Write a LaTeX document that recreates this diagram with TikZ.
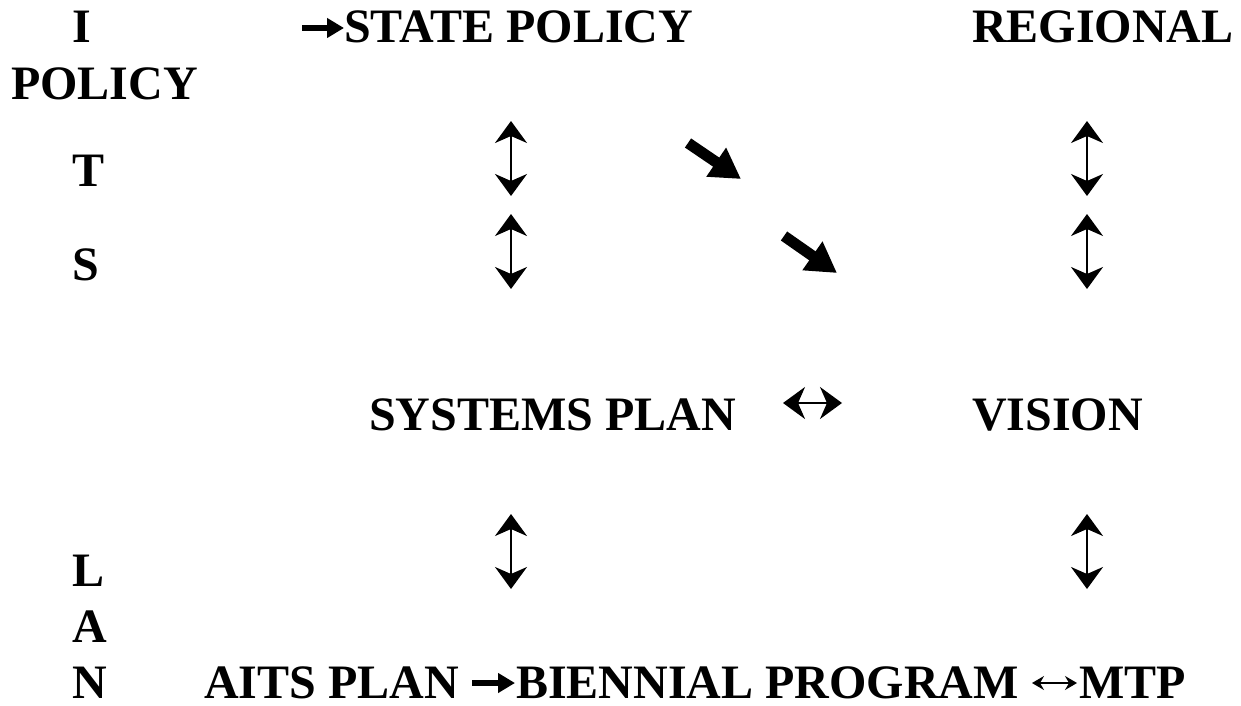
\documentclass[tikz,border=0pt]{standalone}
\usepackage{fontspec}
\setmainfont{Liberation Serif}
\usetikzlibrary{arrows.meta}
\begin{document}
\begin{tikzpicture}[x=1pt,y=-1pt,
  txt/.style={font=\fontsize{48}{58}\selectfont\bfseries,inner sep=0pt,anchor=base west},
  dbl/.style={line width=2.2pt,{Stealth[length=22pt,width=32pt,inset=7pt]}-{Stealth[length=22pt,width=32pt,inset=7pt]}},
  fat/.style={line width=11pt,-{Triangle[length=30pt,width=33pt]}},
  smallarr/.style={line width=5.5pt,-{Triangle[length=17pt,width=19pt]}},
  thinarr/.style={line width=1.3pt,{Stealth[length=12pt,width=14pt,inset=4pt]}-{Stealth[length=12pt,width=14pt,inset=4pt]}}]
\useasboundingbox (0,0) rectangle (1241,706);
% left column letters
\node[txt] (I) at (72,43) {I};
\node[txt] (policyL) at (11,100) {POLICY};
\node[txt] (T) at (72,186) {T};
\node[txt] (S) at (72,280) {S};
\node[txt] (L) at (72,586) {L};
\node[txt] (A) at (72,642) {A};
\node[txt] (N) at (72,698) {N};
% main texts
\node[txt] (state) at (344,43) {STATE POLICY};
\node[txt] (regional) at (972,43) {REGIONAL};
\node[txt] (systems) at (369,430) {SYSTEMS PLAN};
\node[txt] (vision) at (972,430) {VISION};
\node[txt] (aits) at (204,698) {AITS PLAN};
\node[txt] (bien) at (516,698) {BIENNIAL PROGRAM};
\node[txt] (mtp) at (1079,698) {MTP};
% small arrow before STATE POLICY
\coordinate (sa1) at (302,28);
\coordinate (sa2) at (344,28);
\draw[smallarr] (sa1) -- (sa2);
% bottom arrows
\coordinate (ba1) at (472,683);
\coordinate (ba2) at (515,683);
\draw[smallarr] (ba1) -- (ba2);
\coordinate (bb1) at (1032,683);
\coordinate (bb2) at (1077,683);
\draw[thinarr] (bb1) -- (bb2);
% vertical double arrows
\foreach \x/\n in {511/l,1087/r}{
  \coordinate (\n1t) at (\x,121); \coordinate (\n1b) at (\x,196);
  \coordinate (\n2t) at (\x,214); \coordinate (\n2b) at (\x,289);
  \coordinate (\n3t) at (\x,514); \coordinate (\n3b) at (\x,589);
  \draw[dbl] (\n1t) -- (\n1b);
  \draw[dbl] (\n2t) -- (\n2b);
  \draw[dbl] (\n3t) -- (\n3b);
}
% horizontal double arrow
\coordinate (h1) at (783,403);
\coordinate (h2) at (842,403);
\draw[dbl] (h1) -- (h2);
% diagonal fat arrows
\coordinate (d1s) at (688,143);
\coordinate (d1e) at (741,179);
\draw[fat] (d1s) -- (d1e);
\coordinate (d2s) at (784,236);
\coordinate (d2e) at (837,273);
\draw[fat] (d2s) -- (d2e);
\end{tikzpicture}
\end{document}
